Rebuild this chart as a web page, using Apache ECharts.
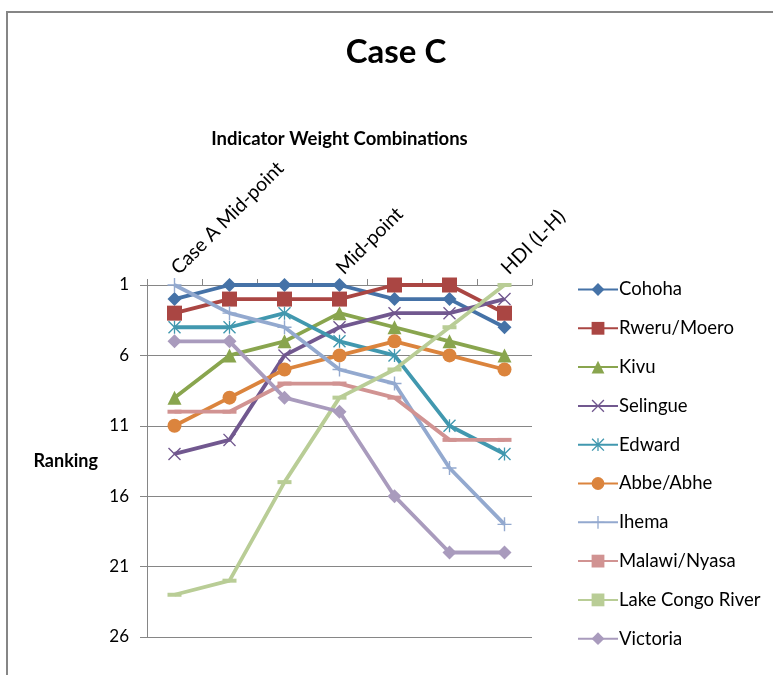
<!DOCTYPE html>
<html>
<head>
<meta charset="utf-8">
<script src="https://cdn.jsdelivr.net/npm/echarts@6/dist/echarts.min.js"></script>
<style>
  html, body { margin: 0; padding: 0; background: #fff; }
  #chart { width: 773px; height: 675px; }
</style>
</head>
<body>
<div id="chart"></div>
<script>
// x categories (only three labels were printed on the original)
const categories = ['Case A Mid-point', '', '', 'Mid-point', '', '', 'HDI (L-H)'];
const yTicks = [1, 6, 11, 16, 21, 26];

// rankings per lake
const cohoha    = [2, 1, 1, 1, 2, 2, 4];
const rweru     = [3, 2, 2, 2, 1, 1, 3];
const kivu      = [9, 6, 5, 3, 4, 5, 6];
const selingue  = [13, 12, 6, 4, 3, 3, 2];
const edward    = [4, 4, 3, 5, 6, 11, 13];
const abbe      = [11, 9, 7, 6, 5, 6, 7];
const ihema     = [1, 3, 4, 7, 8, 14, 18];
const malawi    = [10, 10, 8, 8, 9, 12, 12];
const congo     = [23, 22, 15, 9, 7, 4, 1];
const victoria  = [5, 5, 9, 10, 16, 20, 20];

// marker shapes
const xMark = 'path://M0,1.5 L1.5,0 L10,8.5 L18.5,0 L20,1.5 L11.5,10 L20,18.5 L18.5,20 L10,11.5 L1.5,20 L0,18.5 L8.5,10 Z';
const starMark = xMark + ' M9,0 L11,0 L11,20 L9,20 Z';
const plusMark = 'path://M9,0 L11,0 L11,9 L20,9 L20,11 L11,11 L11,20 L9,20 L9,11 L0,11 L0,9 L9,9 Z';
const dashMark = 'path://M0,0 L20,0 L20,5 L0,5 Z';

const font = 'Lato, "Liberation Sans", sans-serif';

function line(name, data, color, symbol, size) {
  return {
    name: name,
    type: 'line',
    data: data,
    symbol: symbol,
    symbolSize: size,
    showAllSymbol: true,
    lineStyle: { color: color, width: 3.8 },
    itemStyle: { color: color },
    emphasis: { disabled: true }
  };
}

const chart = echarts.init(document.getElementById('chart'));

const option = {
  animation: false,
  textStyle: { fontFamily: font },
  graphic: [{
    type: 'rect',
    shape: { x: 7, y: 12, width: 820, height: 720 },
    style: { fill: 'none', stroke: '#868686', lineWidth: 2 },
    silent: true
  }],
  title: {
    text: 'Case C',
    left: 391,
    textAlign: 'center',
    top: 31,
    textStyle: { fontFamily: font, fontSize: 33, fontWeight: 'bold', color: '#000' }
  },
  legend: {
    orient: 'vertical',
    left: 572,
    top: 275,
    itemWidth: 40,
    itemHeight: 16,
    itemGap: 19.8,
    textStyle: { fontFamily: font, fontSize: 18.5, color: '#000', padding: [0, 0, 0, -4] }
  },
  grid: { left: 147, top: 285, right: 241, bottom: 38 },
  xAxis: {
    type: 'category',
    position: 'top',
    data: categories,
    boundaryGap: true,
    name: 'Indicator Weight Combinations',
    nameLocation: 'middle',
    nameGap: 136,
    nameTextStyle: { fontFamily: font, fontSize: 18.5, fontWeight: 'bold', color: '#000' },
    axisLine: { lineStyle: { color: '#868686', width: 1 } },
    axisTick: { show: true, length: 6, interval: 0, lineStyle: { color: '#868686' } },
    axisLabel: { interval: 0, rotate: -45, fontSize: 19.5, color: '#000', margin: 14 },
    splitLine: { show: false }
  },
  yAxis: {
    type: 'value',
    inverse: true,
    min: yTicks[0],
    max: yTicks[yTicks.length - 1],
    interval: 5,
    name: 'Ranking',
    nameLocation: 'middle',
    nameRotate: 0,
    nameGap: 49,
    nameTextStyle: { fontFamily: font, fontSize: 18, fontWeight: 'bold', color: '#000' },
    axisLine: { show: true, lineStyle: { color: '#868686', width: 1 } },
    axisTick: { show: true, length: 7, lineStyle: { color: '#868686' } },
    axisLabel: { fontSize: 17, color: '#000', margin: 18 },
    splitLine: { lineStyle: { color: '#868686', width: 1 } }
  },
  series: [
    line('Cohoha', cohoha, '#4572A7', 'diamond', 14),
    line('Rweru/Moero', rweru, '#AA4643', 'rect', 15),
    line('Kivu', kivu, '#89A54E', 'triangle', 14),
    line('Selingue', selingue, '#71588F', xMark, 13),
    line('Edward', edward, '#4198AF', starMark, 13),
    line('Abbe/Abhe', abbe, '#DB843D', 'circle', 14),
    line('Ihema', ihema, '#93A9CF', plusMark, 14),
    line('Malawi/Nyasa', malawi, '#D19392', dashMark, [14, 4]),
    line('Lake Congo River', congo, '#B9CD96', dashMark, [14, 4]),
    line('Victoria', victoria, '#A99BBD', 'diamond', 14)
  ]
};

chart.setOption(option);
</script>
</body>
</html>
